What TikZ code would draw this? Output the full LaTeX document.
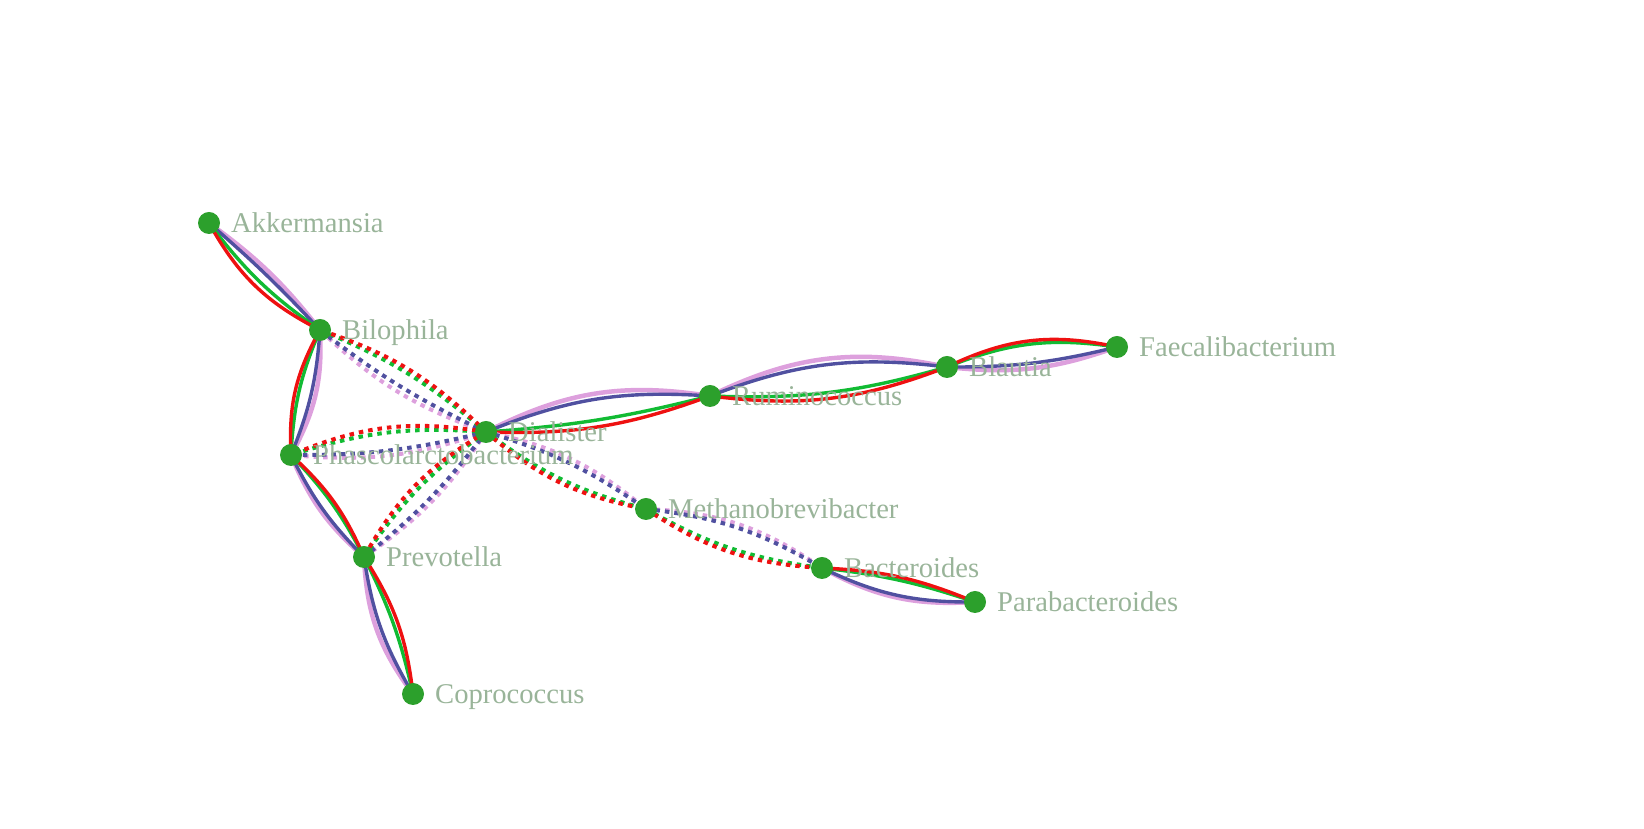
\documentclass[tikz,border=0pt]{standalone}
\usepackage{fontspec}
\setmainfont{Liberation Serif}
\usetikzlibrary{backgrounds}

\definecolor{linkred}{HTML}{EE1111}
\definecolor{linkgreen}{HTML}{11BB33}
\definecolor{linkblue}{HTML}{5050A0}
\definecolor{linkpink}{HTML}{DDA0DD}
\definecolor{dotgreen}{HTML}{2CA02C}
\definecolor{labelgreen}{HTML}{99B499}

\tikzstyle{taxon dot}=[fill=dotgreen,circle,minimum size=22pt,
    inner sep=0pt,outer sep=0pt]
\tikzstyle{taxon label}=[anchor=base west,inner sep=0pt,text=labelgreen,
    font=\fontsize{28.6}{34}\selectfont]
\tikzstyle{link pink}=[line width=4.5pt,color=linkpink]
\tikzstyle{link blue}=[line width=3.4pt,color=linkblue]
\tikzstyle{link green}=[line width=3.4pt,color=linkgreen]
\tikzstyle{link red}=[line width=3.4pt,color=linkred]
\tikzstyle{dashed link}=[dash pattern=on 4.5pt off 5pt,line width=4pt]
\newcommand{\taxon}[2]{
    \node[taxon dot] at (#1) (#2) {};
    \node[taxon label] at ([xshift=22pt,yshift=-10pt]#2.center) (#2-label) {#2};
}
% pink and blue bend left, green and red bend right
\newcommand{\bundle}[7][]{
    \draw[link pink,#1] (#2.center) to[bend left=#4] (#3.center);
    \draw[link blue,#1] (#2.center) to[bend left=#5] (#3.center);
    \draw[link green,#1] (#2.center) to[bend right=#6] (#3.center);
    \draw[link red,#1] (#2.center) to[bend right=#7] (#3.center);
}

\begin{document}
\begin{tikzpicture}[x=1pt,y=1pt]
    \useasboundingbox (0,0) rectangle (1644,829);
    \taxon{209,606}{Akkermansia}
    \taxon{320,499}{Bilophila}
    \taxon{291,374}{Phascolarctobacterium}
    \taxon{486,397}{Dialister}
    \taxon{364,272}{Prevotella}
    \taxon{413,135}{Coprococcus}
    \taxon{710,433}{Ruminococcus}
    \taxon{646,320}{Methanobrevibacter}
    \taxon{822,261}{Bacteroides}
    \taxon{975,227}{Parabacteroides}
    \taxon{947,462}{Blautia}
    \taxon{1117,482}{Faecalibacterium}
    %
    \begin{pgfonlayer}{background}
    \bundle{Akkermansia}{Bilophila}{8}{3}{9}{17}
    \bundle{Bilophila}{Phascolarctobacterium}{16}{9}{10}{16}
    \bundle{Prevotella}{Phascolarctobacterium}{13}{9}{8}{12}
    \bundle{Coprococcus}{Prevotella}{17}{11}{7}{13}
    \bundle{Dialister}{Ruminococcus}{18}{13}{5}{11}
    \bundle{Ruminococcus}{Blautia}{19}{14}{9}{14}
    \bundle{Faecalibacterium}{Blautia}{13}{7}{15}{19}
    \bundle{Parabacteroides}{Bacteroides}{16}{13}{6}{10}
    %
    \bundle[dashed link]{Dialister}{Bilophila}{12}{6}{9}{13}
    \bundle[dashed link]{Dialister}{Phascolarctobacterium}{12}{7}{11}{16}
    \bundle[dashed link]{Dialister}{Prevotella}{11}{7}{10}{15}
    \bundle[dashed link]{Dialister}{Methanobrevibacter}{14}{9}{11}{15}
    \bundle[dashed link]{Methanobrevibacter}{Bacteroides}{16}{12}{11}{15}
    \end{pgfonlayer}
\end{tikzpicture}
\end{document}
